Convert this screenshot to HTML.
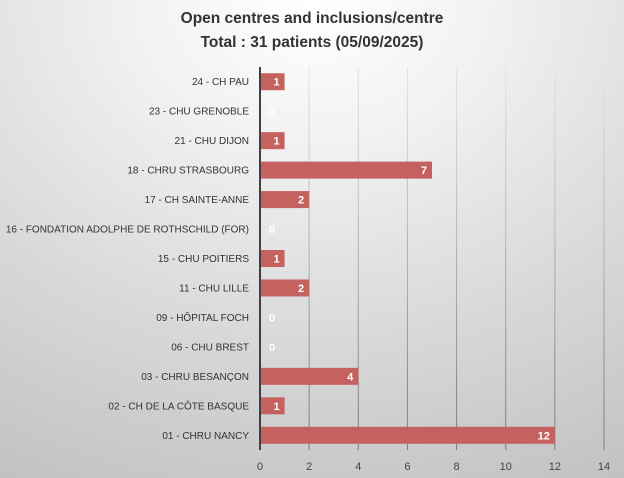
<!DOCTYPE html>
<html><head><meta charset="utf-8"><style>
body{margin:0;width:624px;height:478px;overflow:hidden;font-family:"Liberation Sans",sans-serif;}
#bg{position:absolute;left:0;top:0;width:624px;height:478px;background:radial-gradient(ellipse 700px 560px at 312px 0px,#ffffff 0%,#f2f2f2 25%,#d9d9d9 60%,#bfbfbf 100%);}
</style></head><body>
<div id="bg"></div>
<svg id="c" width="624" height="478" style="position:absolute;left:0;top:0">
<defs><linearGradient id="gl" x1="0" y1="0" x2="0" y2="1"><stop offset="0" stop-color="#e4e4e4"/><stop offset="1" stop-color="#7a7a7a"/></linearGradient></defs>
<text x="312" y="23" text-anchor="middle" font-size="15.5" font-weight="bold" fill="#333">Open centres and inclusions/centre</text>
<text x="312" y="47" text-anchor="middle" font-size="15.5" font-weight="bold" fill="#333">Total : 31 patients (05/09/2025)</text>
</svg>
<script>
const categories=["24 - CH PAU","23 - CHU GRENOBLE","21 - CHU DIJON","18 - CHRU STRASBOURG","17 - CH SAINTE-ANNE","16 - FONDATION ADOLPHE DE ROTHSCHILD (FOR)","15 - CHU POITIERS","11 - CHU LILLE","09 - HÔPITAL FOCH","06 - CHU BREST","03 - CHRU BESANÇON","02 - CH DE LA CÔTE BASQUE","01 - CHRU NANCY"];
const values=[1,0,1,7,2,0,1,2,0,0,4,1,12];
const ticks=[0,2,4,6,8,10,12,14];
const svg=document.getElementById('c');const NS="http://www.w3.org/2000/svg";
const x0=260,x1=604,xmax=14,yTop=67,yBot=450;
const xs=v=>x0+v/xmax*(x1-x0);
const band=(yBot-yTop)/categories.length;
const yc=i=>yTop+band*(i+0.5);
function mk(t,a){const e=document.createElementNS(NS,t);for(const k in a)e.setAttribute(k,a[k]);svg.appendChild(e);return e;}
ticks.forEach(t=>{
 if(t>0){const g=mk('rect',{x:xs(t)-0.5,y:yTop,width:1,height:yBot-yTop,fill:'url(#gl)'});
 
 }
 const l=mk('text',{x:xs(t),y:470,'text-anchor':'middle','font-size':11,fill:'#444'});l.textContent=t;
 
 
});
categories.forEach((c,i)=>{
 const l=mk('text',{x:249,y:yc(i)+3.5,'text-anchor':'end','font-size':10,fill:'#333'});l.textContent=c;
 
 
 const h=17;
 if(values[i]>0){const b=mk('rect',{x:x0,y:yc(i)-h/2,width:xs(values[i])-x0,height:h,fill:'#c5625f'});
 
 }
 const v=mk('text',{x:values[i]>0?xs(values[i])-5:x0+12,y:yc(i)+4,'text-anchor':values[i]>0?'end':'middle','font-size':11,'font-weight':'bold',fill:'#fff'});v.textContent=values[i];
 
 
});
const ax=mk('rect',{x:x0-1,y:yTop,width:2,height:yBot-yTop,fill:'#404040'});


</script>
</body></html>
